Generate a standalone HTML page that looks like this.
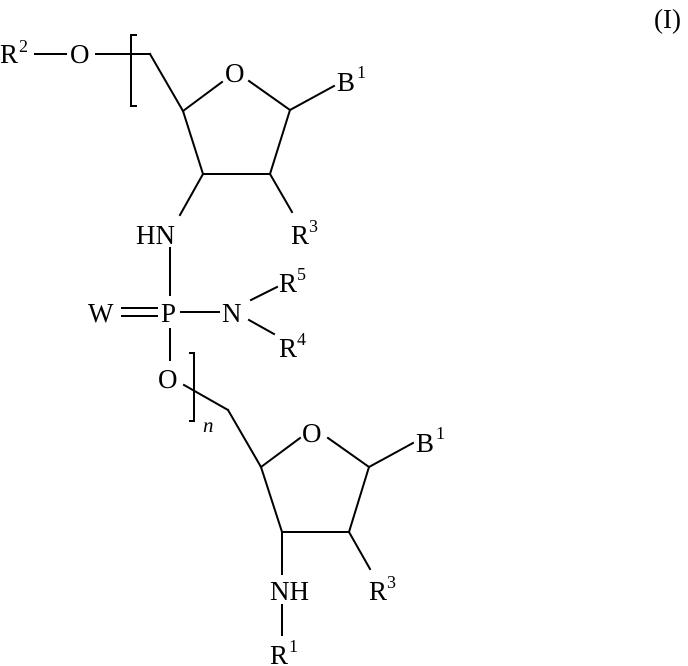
<!DOCTYPE html>
<html><head><meta charset="utf-8"><style>
html,body{margin:0;padding:0;background:#fff;}
svg{display:block;}
text{font-family:"Liberation Serif",serif;fill:#000;}
</style></head><body>
<svg width="688" height="666" viewBox="0 0 688 666" xmlns="http://www.w3.org/2000/svg">
<g stroke="#000" stroke-width="2" fill="none" stroke-linecap="square">
<line x1="35" y1="54" x2="66" y2="54"/>
<line x1="96" y1="54" x2="150" y2="54"/>
<polyline points="136,35 131,35 131,106 136,106"/>
<line x1="150" y1="54" x2="183" y2="111"/>
<line x1="183" y1="111" x2="222" y2="82"/>
<line x1="249" y1="81" x2="290" y2="110"/>
<line x1="290" y1="110" x2="334" y2="86"/>
<line x1="290" y1="110" x2="270" y2="174"/>
<line x1="270" y1="174" x2="203" y2="174"/>
<line x1="203" y1="174" x2="183" y2="111"/>
<line x1="203" y1="174" x2="180" y2="215"/>
<line x1="270" y1="174" x2="292" y2="212"/>
<line x1="170" y1="248" x2="170" y2="295"/>
<line x1="122" y1="308" x2="157" y2="308"/>
<line x1="122" y1="316" x2="157" y2="316"/>
<line x1="181" y1="312" x2="219" y2="312"/>
<line x1="251" y1="300" x2="277" y2="287"/>
<line x1="249" y1="320" x2="274" y2="334"/>
<line x1="170" y1="329" x2="170" y2="360"/>
<line x1="184" y1="385" x2="228" y2="410"/>
<polyline points="190,353 194,353 194,421 190,421"/>
<line x1="228" y1="410" x2="261" y2="467"/>
<line x1="261" y1="467" x2="300" y2="438"/>
<line x1="328" y1="438" x2="369" y2="467"/>
<line x1="369" y1="467" x2="413" y2="443"/>
<line x1="369" y1="467" x2="349" y2="532"/>
<line x1="349" y1="532" x2="282" y2="532"/>
<line x1="282" y1="532" x2="261" y2="467"/>
<line x1="282" y1="532" x2="282" y2="574"/>
<line x1="349" y1="532" x2="370" y2="569"/>
<line x1="282" y1="605" x2="282" y2="635"/>
</g>
<g font-size="27">
<text x="654" y="28">(I)</text>
<text x="0" y="63">R</text><text x="19" y="52" font-size="18">2</text>
<text x="70" y="63">O</text>
<text x="225" y="82">O</text>
<text x="337" y="91">B</text><text x="357" y="78" font-size="18">1</text>
<text x="136" y="244">HN</text>
<text x="291" y="244">R</text><text x="309" y="232" font-size="18">3</text>
<text x="88" y="322">W</text>
<text x="161" y="322">P</text>
<text x="222" y="322">N</text>
<text x="279" y="292">R</text><text x="297" y="280" font-size="18">5</text>
<text x="279" y="357">R</text><text x="297" y="345" font-size="18">4</text>
<text x="158" y="388">O</text>
<text x="203" y="432" font-style="italic" font-size="21">n</text>
<text x="302" y="442">O</text>
<text x="416" y="452">B</text><text x="436" y="439" font-size="18">1</text>
<text x="270" y="600">NH</text>
<text x="369" y="600">R</text><text x="387" y="588" font-size="18">3</text>
<text x="270" y="664">R</text><text x="289" y="652" font-size="18">1</text>
</g>
</svg>
</body></html>
